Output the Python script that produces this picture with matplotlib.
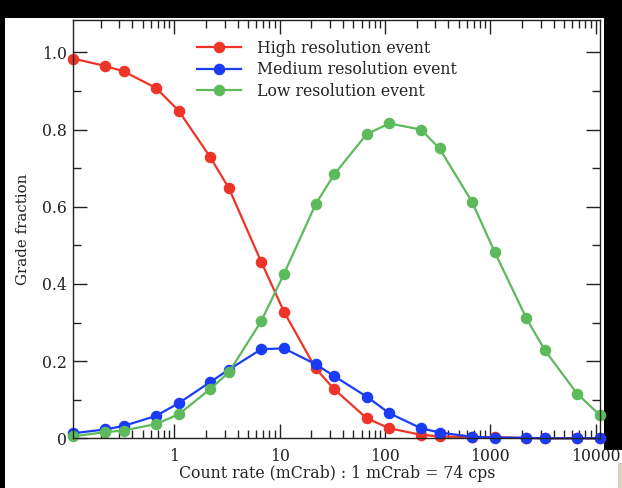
import numpy as np
import matplotlib
matplotlib.use('Agg')
import matplotlib.pyplot as plt
from matplotlib.patches import Rectangle
from matplotlib.ticker import FixedLocator, LogLocator, NullFormatter, MultipleLocator

# count rate in mCrab
rate = [0.11, 0.22, 0.33, 0.67, 1.1, 2.2, 3.3, 6.7, 11, 22, 33, 67,
        110, 220, 330, 670, 1100, 2200, 3300, 6700, 11000]

high = [0.984, 0.965, 0.951, 0.908, 0.849, 0.728, 0.648, 0.457, 0.328, 0.181, 0.127, 0.052,
        0.026, 0.009, 0.005, 0.003, 0.003, 0.001, 0.0, 0.0, 0.0]
medium = [0.013, 0.023, 0.032, 0.058, 0.091, 0.146, 0.178, 0.231, 0.233, 0.192, 0.161, 0.108,
          0.065, 0.026, 0.015, 0.004, 0.002, 0.001, 0.0, 0.0, 0.0]
low = [0.005, 0.016, 0.02, 0.037, 0.062, 0.128, 0.171, 0.304, 0.426, 0.607, 0.684, 0.788,
       0.816, 0.80, 0.751, 0.613, 0.483, 0.311, 0.228, 0.115, 0.06]

series_names = ['High resolution event', 'Medium resolution event', 'Low resolution event']
colors = ['#ee3327', '#1a3cf5', '#5cba5c']

plt.rcParams['font.family'] = 'DejaVu Serif'
plt.rcParams['font.size'] = 11.3

fig = plt.figure(figsize=(6.22, 4.88), dpi=100, facecolor='black')
# white page area of the screenshot
fig.patches.append(Rectangle((5 / 622, 0), 599 / 622, 470 / 488, transform=fig.transFigure,
                             facecolor='white', edgecolor='none', zorder=-10))
fig.patches.append(Rectangle((600 / 622, 0), 22 / 622, 38 / 488, transform=fig.transFigure,
                             facecolor='white', edgecolor='none', zorder=-10))
fig.patches.append(Rectangle((618 / 622, 0), 4 / 622, 25 / 488, transform=fig.transFigure,
                             facecolor='#d8d2bf', edgecolor='none', zorder=-9))

ax = fig.add_axes([73.3 / 622, 1 - 438.3 / 488, (600 - 73.3) / 622, (438.3 - 20) / 488])

for vals, name, c in zip([high, medium, low], series_names, colors):
    ax.plot(rate, vals, '-o', color=c, lw=1.6, ms=7.3, label=name, clip_on=False)

ax.set_xscale('log')
ax.set_xlim(0.11, 11000)
ax.set_ylim(0, 1.084)

ax.xaxis.set_major_locator(FixedLocator([1, 10, 100, 1000, 10000]))
ax.set_xticklabels(['1', '10', '100', '1000', '10000'])
ax.xaxis.set_minor_locator(LogLocator(base=10, subs=np.arange(2, 10), numticks=20))
ax.xaxis.set_minor_formatter(NullFormatter())

ax.yaxis.set_major_locator(FixedLocator([0, 0.2, 0.4, 0.6, 0.8, 1.0]))
ax.set_yticklabels(['0', '0.2', '0.4', '0.6', '0.8', '1.0'])
ax.yaxis.set_minor_locator(MultipleLocator(0.1))

ax.tick_params(which='both', direction='in', top=True, right=True, width=1.0, colors='#222222',
               labelcolor='#222222')
ax.tick_params(which='major', length=10)
ax.tick_params(which='minor', length=6)
ax.tick_params(axis='x', which='major', pad=7)
ax.tick_params(axis='y', which='major', pad=4.5)
for s in ax.spines.values():
    s.set_linewidth(1.0)
    s.set_color('#222222')

ax.set_xlabel('Count rate (mCrab) : 1 mCrab = 74 cps', color='#222222', labelpad=0)
ax.set_ylabel('Grade fraction', color='#222222', labelpad=9, fontsize=10.8)

ax.legend(loc='upper left', bbox_to_anchor=(0.22, 0.972), frameon=False, handlelength=2.8,
          handletextpad=1.0, labelspacing=0.3, borderpad=0, labelcolor='#222222')

fig.savefig('out.png', dpi=100, facecolor=fig.get_facecolor())
